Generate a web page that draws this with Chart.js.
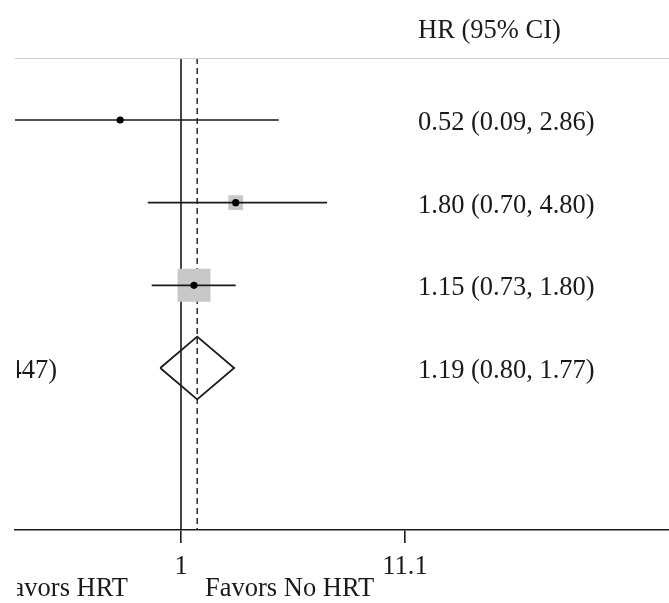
<!DOCTYPE html>
<html>
<head>
<meta charset="utf-8">
<script src="https://cdn.jsdelivr.net/npm/chart.js@4"></script>
<style>
  html, body { margin: 0; padding: 0; background: #fff; }
  #wrap { width: 669px; height: 603px; }
</style>
</head>
<body>
<div id="wrap"><canvas id="forest" width="669" height="603"></canvas></div>
<script>
// study estimates (hazard ratios with 95% CI)
const hr = [0.52, 1.80, 1.15];
const lower = [0.09, 0.70, 0.73];
const upper = [2.86, 4.80, 1.80];
const weights = [1, 16, 80];
const rows = [1, 2, 3];

// pooled estimate
const overallHr = 1.19;
const overallLower = 0.80;
const overallUpper = 1.77;
const overallRow = 4;
const overallLabel = 'Overall (I-squared = 0.0%, p = 0.447)';

const tickVals = [1, 11.1];

const FONT = '"Liberation Serif", "Times New Roman", serif';
const INK = '#1a1a1a';

const fmt = (e, l, u) => `${e.toFixed(2)} (${l.toFixed(2)}, ${u.toFixed(2)})`;

const datasets = [];

// null line and pooled estimate line
datasets.push({
    type: 'line', order: 4, data: [{x: 1, y: 0.25}, {x: 1, y: 5.96}],
    borderColor: INK, borderWidth: 1.6, pointRadius: 0
});
datasets.push({
    type: 'line', order: 4, data: [{x: overallHr, y: 0.25}, {x: overallHr, y: 5.96}],
    borderColor: INK, borderWidth: 1.4, borderDash: [6, 4], pointRadius: 0
});

// weight boxes
datasets.push({
    type: 'scatter', order: 3,
    data: rows.map((r, i) => ({x: hr[i], y: r})),
    pointStyle: 'rect',
    pointRadius: weights.map(w => Math.sqrt(w) * 3.69 / Math.SQRT2),
    backgroundColor: '#c8c8c8', borderWidth: 0
});

// confidence intervals
rows.forEach((r, i) => {
    datasets.push({
        type: 'line', order: 2, data: [{x: lower[i], y: r}, {x: upper[i], y: r}],
        borderColor: INK, borderWidth: 1.7, pointRadius: 0
    });
});

// point estimates
datasets.push({
    type: 'scatter', order: 1,
    data: rows.map((r, i) => ({x: hr[i], y: r})),
    pointStyle: 'circle', pointRadius: 3.6,
    backgroundColor: '#000', borderWidth: 0
});

// pooled diamond
datasets.push({
    type: 'line', order: 1,
    data: [
        {x: overallLower, y: overallRow},
        {x: overallHr, y: overallRow - 0.38},
        {x: overallUpper, y: overallRow},
        {x: overallHr, y: overallRow + 0.38},
        {x: overallLower, y: overallRow}
    ],
    borderColor: INK, borderWidth: 1.8, pointRadius: 0, tension: 0
});

const textPlugin = {
    id: 'forestText',
    afterDraw(chart) {
        const {ctx, chartArea, scales} = chart;
        const y = scales.y;
        ctx.save();
        // rule under the header
        ctx.strokeStyle = '#cfcfcf';
        ctx.lineWidth = 1;
        ctx.beginPath();
        ctx.moveTo(chartArea.left, chartArea.top + 0.5);
        ctx.lineTo(chartArea.right, chartArea.top + 0.5);
        ctx.stroke();

        ctx.fillStyle = INK;
        ctx.font = `26.5px ${FONT}`;
        ctx.textBaseline = 'middle';
        ctx.textAlign = 'left';
        ctx.fillText('HR (95% CI)', 418, 31);
        rows.forEach((r, i) => {
            ctx.fillText(fmt(hr[i], lower[i], upper[i]), 418, y.getPixelForValue(r) + 3);
        });
        ctx.fillText(fmt(overallHr, overallLower, overallUpper), 418, y.getPixelForValue(overallRow) + 3);

        ctx.fillText('Favors No HRT', 205, 589);

        // left part of the figure is cut off
        ctx.beginPath();
        ctx.rect(chartArea.left + 2, 0, chart.width, chart.height);
        ctx.clip();
        ctx.textAlign = 'right';
        ctx.fillText('Favors HRT', 128, 589);
        ctx.fillText(overallLabel, 57, y.getPixelForValue(overallRow) + 3);
        ctx.restore();
    }
};

new Chart(document.getElementById('forest'), {
    data: {datasets},
    options: {
        responsive: false,
        animation: false,
        layout: {autoPadding: false, padding: {left: 15, right: 0, top: 58, bottom: 0}},
        plugins: {legend: {display: false}, tooltip: {enabled: false}},
        scales: {
            x: {
                type: 'logarithmic',
                bounds: 'data',
                min: 0.168,
                max: 189.4,
                afterBuildTicks: scale => { scale.ticks = tickVals.map(v => ({value: v})); },
                afterFit: scale => { scale.height = 73; },
                ticks: {
                    callback: v => String(v),
                    color: INK,
                    font: {family: FONT, size: 26.5},
                    padding: 8,
                    maxRotation: 0,
                    autoSkip: false
                },
                grid: {drawOnChartArea: false, color: INK, lineWidth: 1.6, tickLength: 13},
                border: {color: INK, width: 1.6}
            },
            y: {
                type: 'linear',
                reverse: true,
                min: 0.25,
                max: 5.96,
                display: false
            }
        }
    },
    plugins: [textPlugin]
});
</script>
</body>
</html>
